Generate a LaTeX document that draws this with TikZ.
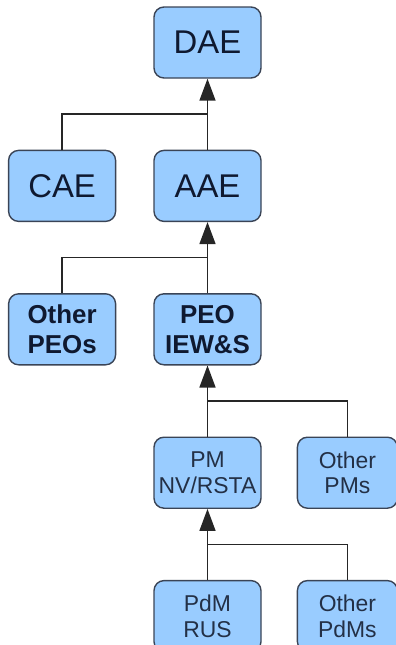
\documentclass[tikz,border=0pt]{standalone}
\usepackage{fontspec}
\setmainfont{Liberation Sans}
\usetikzlibrary{positioning, arrows.meta, calc}
\definecolor{boxfill}{RGB}{153,204,255}
\definecolor{boxline}{RGB}{58,68,86}
\definecolor{boxtext}{RGB}{15,25,48}
\definecolor{softtext}{RGB}{35,48,70}
\tikzset{
  office/.style={
    draw=boxline,
    line width=1.4bp,
    rectangle,
    rounded corners=10bp,
    minimum width=107bp,
    minimum height=71bp,
    inner sep=0pt,
    align=center,
    fill=boxfill,
    text=boxtext
  },
  toplevel/.style={office, font=\fontsize{33}{36}\selectfont},
  peolevel/.style={office, font=\bfseries\fontsize{26}{30}\selectfont},
  pmlevel/.style={office, text=softtext, font=\fontsize{23}{25.5}\selectfont},
  sidebox/.style={minimum width=100bp},
  link/.style={
    draw=black!85,
    line width=1.5bp
  },
  report/.style={
    link,
    -{Triangle[length=22bp, width=16bp]}
  }
}

\begin{document}
\begin{tikzpicture}
        \useasboundingbox (0,0) rectangle (396bp,-645bp);
        \node[toplevel] (dae) at (207.5bp,-42.5bp) {DAE};
        \node[toplevel, below=71bp of dae] (aae) {AAE};
        \node[toplevel, left=37bp of aae] (cae) {CAE};

        \node[peolevel, below=71bp of aae] (peo) {PEO\\IEW\&S};
        \node[peolevel, left=37bp of peo] (otherpeo) {Other\\PEOs};

        \node[pmlevel, below=71bp of peo] (pm) {PM\\NV/RSTA};
        \node[pmlevel, sidebox, right=35bp of pm] (otherpm) {Other\\PMs};

        \node[pmlevel, below=71bp of pm] (pdm) {PdM\\RUS};
        \node[pmlevel, sidebox, right=35bp of pdm] (otherpdm) {Other\\PdMs};

        % junctions halfway between the levels
        \coordinate (j1) at ($(dae.south)!0.5!(aae.north)$);
        \coordinate (j2) at ($(aae.south)!0.5!(peo.north)$);
        \coordinate (j3) at ($(peo.south)!0.5!(pm.north)$);
        \coordinate (j4) at ($(pm.south)!0.5!(pdm.north)$);

        \draw[report] (aae) -- (dae);
        \draw[link] (cae.north) |- (j1);
        \draw[report] (peo) -- (aae);
        \draw[link] (otherpeo.north) |- (j2);
        \draw[report] (pm) -- (peo);
        \draw[link] (otherpm.north) |- (j3);
        \draw[report] (pdm) -- (pm);
        \draw[link] (otherpdm.north) |- (j4);
      \end{tikzpicture}
\end{document}
